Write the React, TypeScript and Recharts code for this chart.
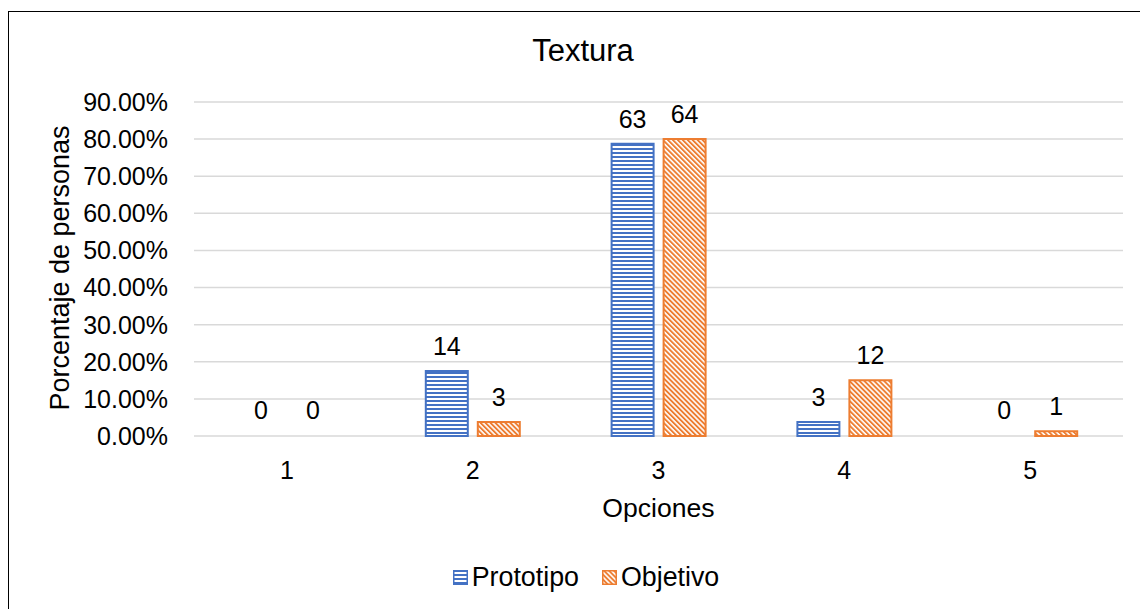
import React from "react";
import {
  BarChart,
  Bar,
  XAxis,
  YAxis,
  CartesianGrid,
  Legend,
  LabelList,
  Rectangle,
} from "recharts";

const categories = ["1", "2", "3", "4", "5"];
const prototipoCount = [0, 14, 63, 3, 0];
const objetivoCount = [0, 3, 64, 12, 1];
// share of the 80 respondents
const prototipoPct = [0, 0.175, 0.7875, 0.0375, 0];
const objetivoPct = [0, 0.0375, 0.8, 0.15, 0.0125];
const yTicks = [0, 0.1, 0.2, 0.3, 0.4, 0.5, 0.6, 0.7, 0.8, 0.9];

const BLUE = "#4472C4";
const ORANGE = "#ED7D31";
const FONT = "'Liberation Sans', Arial, sans-serif";

const data = categories.map((name, i) => ({
  name,
  Prototipo: prototipoPct[i],
  Objetivo: objetivoPct[i],
  protoCount: prototipoCount[i],
  objCount: objetivoCount[i],
}));

// Text drops a bare 0 child, so counts go through as strings
const asText = (v: unknown) => `${v}`;

// zero bars keep a 1px slot (so their "0" label still shows) but draw nothing
const barShape = (key: string) => (props: any) =>
  props.payload && props.payload[key] > 0 ? <Rectangle {...props} /> : <g />;

const LegendContent = () => (
  <div
    style={{
      display: "flex",
      justifyContent: "center",
      alignItems: "center",
      height: 36,
      paddingLeft: 14,
      fontFamily: FONT,
      fontSize: 26.8,
      color: "#000",
    }}
  >
    <svg width={15} height={15} style={{ marginRight: 4 }}>
      <rect x={0.75} y={0.75} width={13.5} height={13.5} fill="url(#protoFill)" stroke={BLUE} strokeWidth={1.5} />
    </svg>
    <span>Prototipo</span>
    <svg width={15} height={15} style={{ marginLeft: 23, marginRight: 4 }}>
      <rect x={0.75} y={0.75} width={13.5} height={13.5} fill="url(#objFill)" stroke={ORANGE} strokeWidth={1.5} />
    </svg>
    <span>Objetivo</span>
  </div>
);

export default function App() {
  return (
    <>
      <style>{"html,body{overflow:hidden}"}</style>
      <div
        style={{
          position: "absolute",
          left: 8,
          top: 11,
          width: 1160,
          height: 620,
          border: "1px solid #000",
          background: "#fff",
        }}
      >
        <BarChart
          width={1140}
          height={600}
          data={data}
          margin={{ top: 90, right: 26, left: 0, bottom: 17 }}
          barSize={42}
          barGap={10}
        >
          <defs>
            <pattern id="protoFill" patternUnits="userSpaceOnUse" width={4} height={4}>
              <rect width={4} height={4} fill="#fff" />
              <rect width={4} height={2} fill={BLUE} />
            </pattern>
            <pattern
              id="objFill"
              patternUnits="userSpaceOnUse"
              width={3.5}
              height={3.5}
              patternTransform="rotate(-45)"
            >
              <rect width={3.5} height={3.5} fill="#fff" />
              <rect width={1.9} height={3.5} fill={ORANGE} />
            </pattern>
          </defs>
          <text x={574} y={38} textAnchor="middle" dominantBaseline="central" fontFamily={FONT} fontSize={31} fill="#000">
            Textura
          </text>
          <text
            x={51}
            y={256}
            textAnchor="middle"
            dominantBaseline="central"
            transform="rotate(-90 51 256)"
            fontFamily={FONT}
            fontSize={27}
            fill="#000"
          >
            Porcentaje de personas
          </text>
          <CartesianGrid vertical={false} stroke="#D9D9D9" strokeWidth={1.5} />
          <XAxis
            dataKey="name"
            height={123}
            axisLine={false}
            tickLine={false}
            tickSize={0}
            tickMargin={25}
            tick={{ fontFamily: FONT, fontSize: 25, fill: "#000" }}
            label={{
              value: "Opciones",
              position: "insideTop",
              offset: 62,
              fontFamily: FONT,
              fontSize: 26.6,
              fill: "#000",
            }}
          />
          <YAxis
            width={185}
            domain={[0, 0.9]}
            ticks={yTicks}
            axisLine={false}
            tickLine={false}
            tickSize={0}
            tickMargin={26}
            tickFormatter={(v: number) => `${(v * 100).toFixed(2)}%`}
            tick={{ fontFamily: FONT, fontSize: 25, fill: "#000" }}
          />
          <Legend
            verticalAlign="bottom"
            wrapperStyle={{ left: 0, width: 1140 }}
            content={<LegendContent />}
          />
          <Bar
            dataKey="Prototipo"
            fill="url(#protoFill)"
            stroke={BLUE}
            strokeWidth={2}
            minPointSize={1}
            shape={barShape("Prototipo")}
            isAnimationActive={false}
          >
            <LabelList
              dataKey="protoCount"
              position="top"
              offset={16}
              formatter={asText}
              fontFamily={FONT}
              fontSize={25}
              fill="#000"
            />
          </Bar>
          <Bar
            dataKey="Objetivo"
            fill="url(#objFill)"
            stroke={ORANGE}
            strokeWidth={2}
            minPointSize={1}
            shape={barShape("Objetivo")}
            isAnimationActive={false}
          >
            <LabelList
              dataKey="objCount"
              position="top"
              offset={16}
              formatter={asText}
              fontFamily={FONT}
              fontSize={25}
              fill="#000"
            />
          </Bar>
        </BarChart>
      </div>
    </>
  );
}
